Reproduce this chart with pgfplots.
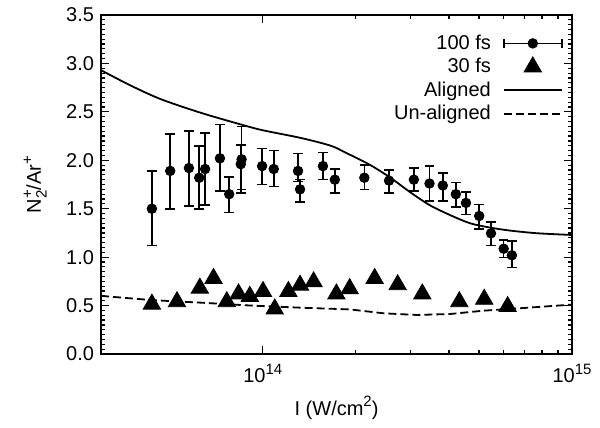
\documentclass[border=0pt]{standalone}
\usepackage{fontspec}
\setmainfont{Liberation Sans}
\usepackage{pgfplots}
\usepackage{pgfplotstable}
\pgfplotsset{compat=1.18}

\newcommand{\sups}[1]{\raisebox{0.8ex}{\fontsize{7.5}{8}\selectfont #1}}
\newcommand{\subs}[1]{\raisebox{-0.55ex}{\fontsize{7.5}{8}\selectfont #1}}

\pgfplotsset{
  linelegend/.style={legend image code/.code={\draw[##1] (0cm,0cm) -- (1.02cm,0cm);}},
  marklegend/.style={legend image code/.code={\draw[##1, mark repeat=2, mark phase=2] plot coordinates {(0cm,0cm) (0.51cm,0cm) (1.02cm,0cm)};}},
  errlegend/.style={legend image code/.code={%
    \draw[line width=0.8pt] (0cm,0cm) -- (1.02cm,0cm);
    \draw[line width=0.8pt] (0cm,-2.4pt) -- (0cm,2.4pt);
    \draw[line width=0.8pt] (1.02cm,-2.4pt) -- (1.02cm,2.4pt);
    \fill (0.51cm,0cm) circle (2.4pt);}},
}

% 100 fs: intensity, ratio, error plus, error minus
\pgfplotstableread{
x        y      ep     em
4.38e13  1.50   0.39   0.38
5.02e13  1.89   0.38   0.39
5.77e13  1.92   0.38   0.39
6.23e13  1.82   0.33   0.32
6.51e13  1.91   0.37   0.37
7.27e13  2.02   0.35   0.34
7.79e13  1.65   0.18   0.19
8.54e13  2.01   0.34   0.31
8.49e13  1.96   0.20   0.30
9.95e13  1.94   0.18   0.19
1.085e14 1.91   0.19   0.18
1.30e14  1.89   0.18   0.11
1.32e14  1.70   0.10   0.13
1.565e14 1.94   0.14   0.14
1.71e14  1.80   0.11   0.14
2.13e14  1.82   0.13   0.12
2.56e14  1.79   0.11   0.13
3.08e14  1.80   0.12   0.12
3.46e14  1.76   0.18   0.18
3.82e14  1.74   0.13   0.16
4.21e14  1.65   0.12   0.13
4.54e14  1.56   0.11   0.12
5.01e14  1.425  0.12   0.135
5.47e14  1.246  0.117  0.124
6.01e14  1.087  0.09   0.09
6.39e14  1.019  0.148  0.128
}\fsa

% 30 fs
\pgfplotstableread{
x        y
4.38e13  0.515
5.28e13  0.54
6.26e13  0.68
6.93e13  0.78
7.65e13  0.54
8.35e13  0.62
9.08e13  0.595
1.002e14 0.645
1.093e14 0.465
1.21e14  0.645
1.32e14  0.71
1.46e14  0.745
1.73e14  0.62
1.91e14  0.675
2.30e14  0.78
2.73e14  0.715
3.28e14  0.62
4.32e14  0.54
5.20e14  0.565
6.19e14  0.49
}\fsb

% aligned model
\pgfplotstableread{
x        y
3.0e13   2.93
3.75e13  2.77
4.69e13  2.63
6.31e13  2.49
8.49e13  2.37
1.0e14   2.31
1.33e14  2.23
1.66e14  2.15
1.85e14  2.08
2.20e14  1.96
2.56e14  1.83
2.98e14  1.676
3.46e14  1.538
4.03e14  1.435
4.69e14  1.349
5.46e14  1.304
6.35e14  1.273
7.77e14  1.246
1.0e15   1.229
}\al

% un-aligned model
\pgfplotstableread{
x        y
3.0e13   0.60
4.35e13  0.557
6.31e13  0.53
9.15e13  0.50
1.33e14  0.478
1.92e14  0.46
2.46e14  0.42
3.15e14  0.403
4.04e14  0.413
5.16e14  0.447
6.63e14  0.47
9.6e14   0.506
1.0e15   0.51
}\un

\begin{document}
\begin{tikzpicture}
\begin{axis}[
  scale only axis, width=235.5pt, height=169.5pt,
  xmode=log, xmin=3e13, xmax=1e15,
  ymin=0, ymax=3.5,
  xtick={1e14,1e15}, xticklabels={10\sups{14},10\sups{15}},
  ytick={0,0.5,...,3.5}, minor y tick num=9,
  axis line style={line width=0.8pt}, tick style={line width=0.6pt, black},
  major tick length=4pt, minor tick length=2pt,
  tick label style={font=\fontsize{10}{12}\selectfont},
  xticklabel style={yshift=-1.5pt},
  yticklabel style={/pgf/number format/.cd, fixed, fixed zerofill, precision=1, assume math mode=true},
  label style={font=\fontsize{10}{12}\selectfont},
  xlabel={I (W/cm\sups{2})},
  ylabel={N\rlap{\subs{2}}\sups{+}/Ar\sups{+}},
  xlabel style={at={(axis description cs:0.5,-0.159)}, anchor=center},
  ylabel style={at={(axis description cs:-0.14,0.5)}, anchor=center},
  legend style={at={(axis description cs:0.981,0.955)}, anchor=north east,
    draw=none, fill=none, inner sep=0pt, row sep=-1pt, column sep=4pt,
    font=\fontsize{10}{12}\selectfont},
  legend cell align=right, legend plot pos=right,
]
\addplot[black, only marks, mark=*, mark size=2.4pt, errlegend,
  error bars/.cd, y dir=both, y explicit,
  error bar style={line width=0.8pt},
  error mark options={rotate=90, mark size=2.4pt, line width=0.8pt}]
  table[x=x, y=y, y error plus=ep, y error minus=em] {\fsa};
\addlegendentry{100 fs}
\addplot[black, only marks, mark=triangle*, mark size=5pt, marklegend]
  table[x=x, y=y] {\fsb};
\addlegendentry{30 fs}
\addplot[black, line width=0.9pt, no marks, smooth, linelegend]
  table[x=x, y=y] {\al};
\addlegendentry{Aligned}
\addplot[black, line width=0.9pt, dash pattern=on 4pt off 2pt, no marks, linelegend]
  table[x=x, y=y] {\un};
\addlegendentry{Un-aligned}
\end{axis}
\pgfresetboundingbox
\path (current axis.south west) ++(-50.5pt,-37pt) rectangle ++(300pt,214pt);
\end{tikzpicture}
\end{document}
